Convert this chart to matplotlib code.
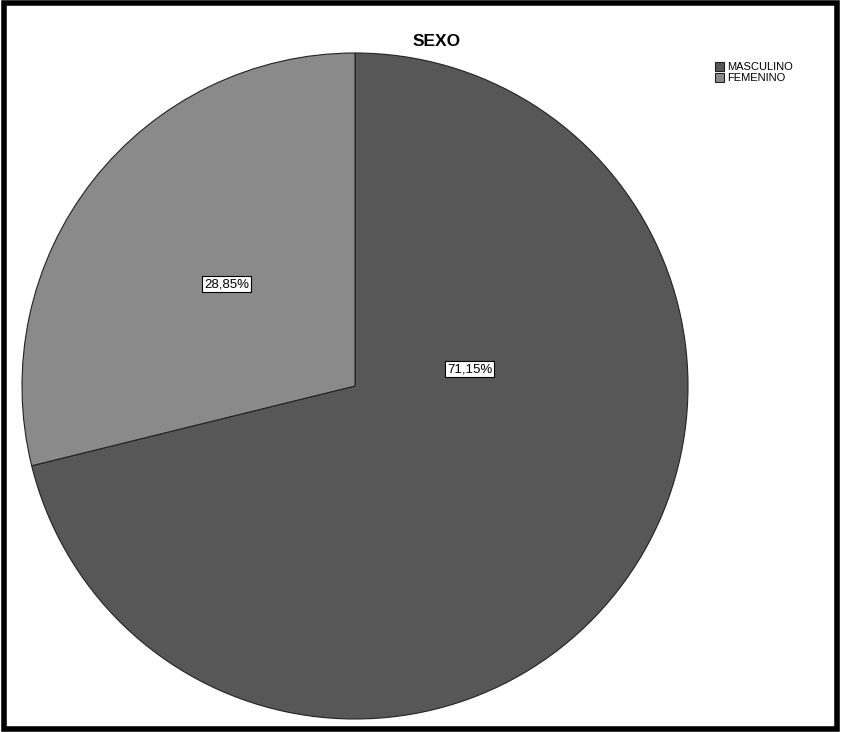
import matplotlib.pyplot as plt
from matplotlib.patches import Rectangle

# data
categorias = ['MASCULINO', 'FEMENINO']
porcentajes = [71.15, 28.85]
colores = ['#575757', '#8a8a8a']

plt.rcParams['font.family'] = ['Liberation Sans', 'DejaVu Sans']

fig = plt.figure(figsize=(8.41, 7.32), dpi=100)
W, H = 841, 732

# pie axes placed by pixel centre / radius
cx, cy, r = 355, 386, 333
ax = fig.add_axes([(cx - r) / W, (H - cy - r) / H, 2 * r / W, 2 * r / H])
wedges, _ = ax.pie(porcentajes, colors=colores, startangle=90, counterclock=False,
                   wedgeprops=dict(edgecolor='#222222', linewidth=0.8))
ax.set_xlim(-1.0, 1.0)
ax.set_ylim(-1.0, 1.0)
ax.set_aspect('equal')

# labels like excel
pos_labels = [(0.345, 0.05), (-0.385, 0.305)]
for val, (x, y) in zip(porcentajes, pos_labels):
    ax.text(x, y, f'{val:.2f}%'.replace('.', ','), ha='center', va='center', fontsize=9.5,
            bbox=dict(boxstyle='square,pad=0.15', facecolor='white', edgecolor='black', linewidth=0.8))

fig.text(437 / W, 1 - 42 / H, 'SEXO', ha='center', va='center', fontsize=12.5, fontweight='bold')

fig.legend(wedges, categorias, loc='upper left', bbox_to_anchor=(715 / W, 1 - 62 / H),
           frameon=False, fontsize=8, handlelength=0.8, handleheight=0.8,
           handletextpad=0.3, labelspacing=0.1, borderaxespad=0, borderpad=0)

# outer frame
fig.patches.append(Rectangle((4 / W, 3 / H), 833 / W, 726 / H, transform=fig.transFigure,
                             fill=False, edgecolor='black', linewidth=4))

fig.savefig('out.png', dpi=100)
